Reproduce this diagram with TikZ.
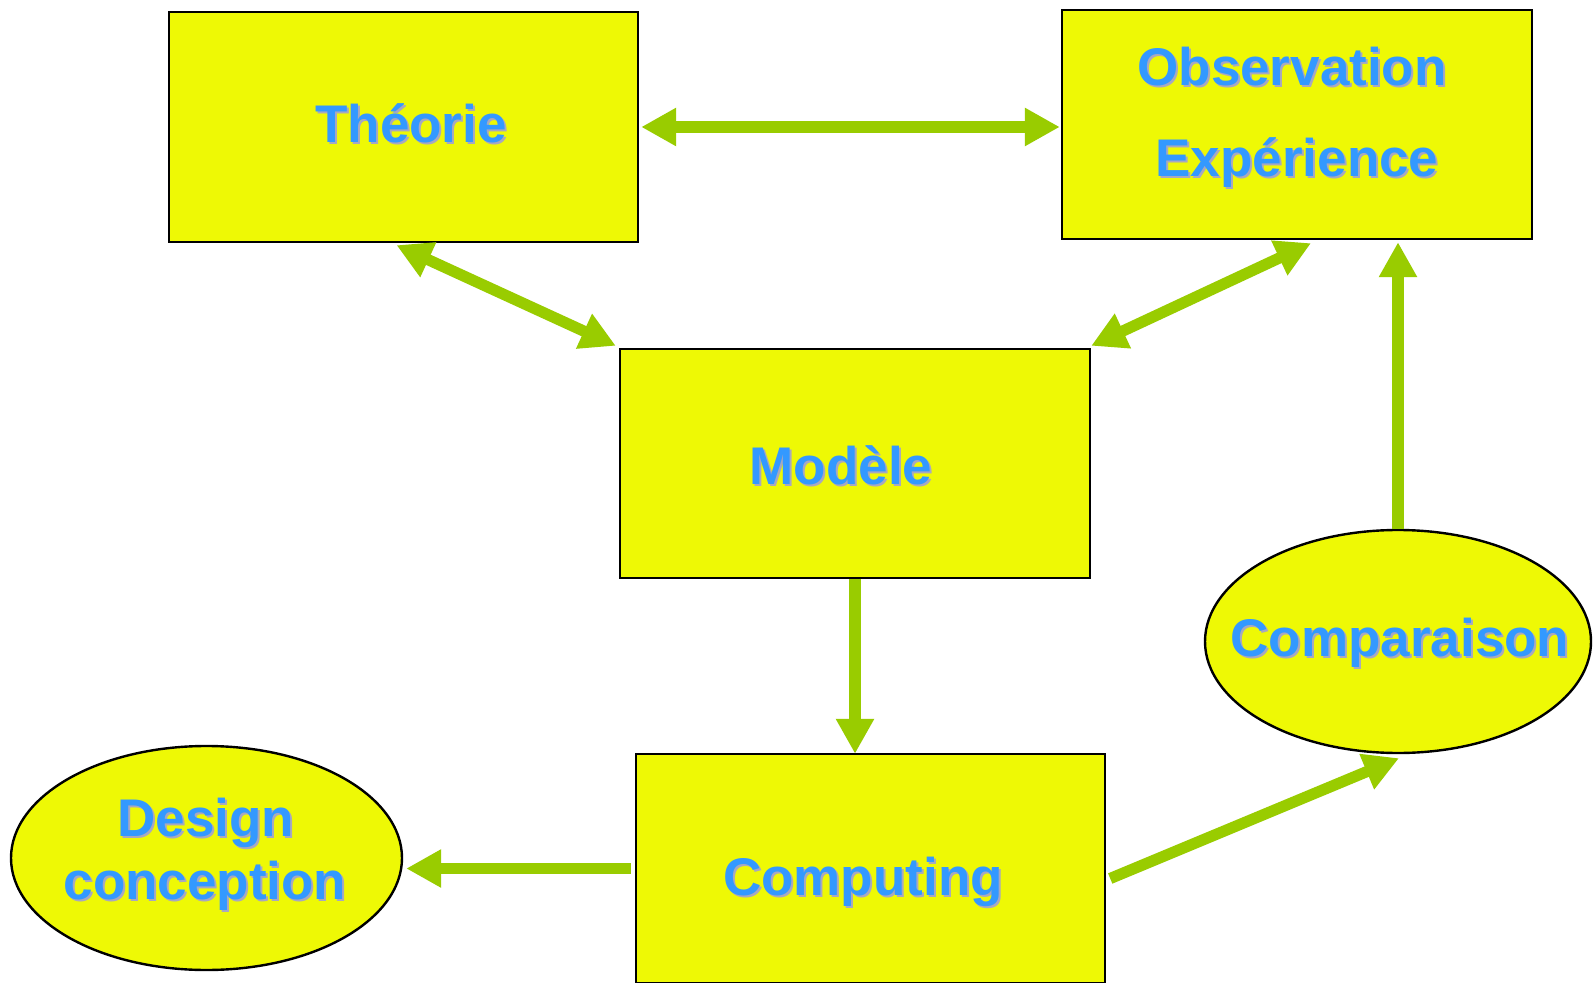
\documentclass[tikz,border=0pt]{standalone}
\usepackage{fontspec}
\setmainfont{Liberation Sans}
\usetikzlibrary{arrows.meta,shapes.geometric,calc}
\definecolor{boxy}{HTML}{EEF905}
\definecolor{arrg}{HTML}{99CC00}
\definecolor{txtb}{HTML}{3399FF}
\definecolor{shad}{HTML}{A8A8C0}
\newcommand\shtxt[1]{\leavevmode\rlap{\kern1pt\raisebox{-1pt}{\color{shad}#1}}{\color{txtb}#1}}
\begin{document}
\begin{tikzpicture}[x=0.5pt,y=-0.5pt,
  box/.style={draw=black, line width=1.2pt, fill=boxy, rectangle, inner sep=0pt},
  ell/.style={draw=black, line width=1.2pt, fill=boxy, ellipse, inner sep=0pt, minimum width=195pt, minimum height=112pt},
  txt/.style={anchor=base, inner sep=0pt, font=\fontsize{26.5}{30}\selectfont\bfseries},
  arr/.style={draw=arrg, line width=5.6pt, -{Triangle[length=17.5pt,width=18pt]}},
  darr/.style={draw=arrg, line width=5.6pt, {Triangle[length=17.5pt,width=18pt]}-{Triangle[length=17.5pt,width=18pt]}}]
\useasboundingbox (0,0) rectangle (1594,983);
\fill[white] (0,0) rectangle (1594,983);
% boxes
\node[box, minimum width=234.5pt, minimum height=115pt] (theo) at (403.5,127) {};
\node[box, minimum width=235pt, minimum height=114.5pt] (obs) at (1297,124.5) {};
\node[box, minimum width=235pt, minimum height=114.5pt] (mod) at (855,463.5) {};
\node[box, minimum width=234.5pt, minimum height=114.5pt] (comp) at (870.5,868.5) {};
\node[ell, minimum width=193pt, minimum height=111.5pt] (cmp) at (1398,641.5) {};
\node[ell, minimum width=195.5pt, minimum height=112pt] (des) at (206.5,858) {};
% texts
\node[txt] (ttheo) at (411,143) {\shtxt{Théorie}};
\node[txt] (tobs1) at (1292,86) {\shtxt{Observation}};
\node[txt] (tobs2) at (1297,177) {\shtxt{Expérience}};
\node[txt] (tmod) at (841,485) {\shtxt{Modèle}};
\node[txt] (tcomp) at (863,895) {\shtxt{Computing}};
\node[txt] (tcmp) at (1400,656) {\shtxt{Comparaison}};
\node[txt] (tdes1) at (206,836) {\shtxt{Design}};
\node[txt] (tdes2) at (205,899) {\shtxt{conception}};
% connectors
\draw[darr] ([xshift=1pt]theo.east) -- ([xshift=-0.5pt]theo.east -| obs.west);
\draw[darr] ($(theo.south)+(-7,2)$) -- ($(mod.north west)+(-3,-2)$);
\draw[darr] ($(obs.south)+(14,3)$) -- ($(mod.north east)+(0,-2)$);
\draw[arr] (mod.south) -- ($(mod.south |- comp.north)+(0,1)$);
\draw[arr] ([xshift=-2pt]comp.west) -- ([xshift=1.5pt]comp.west -| des.east);
\draw[arr] ($(comp.east)+(4,10)$) -- ($(cmp.south)+(1,4)$);
\draw[arr] (cmp.north) -- ($(cmp.north |- obs.south)+(0,2)$);
\end{tikzpicture}
\end{document}
